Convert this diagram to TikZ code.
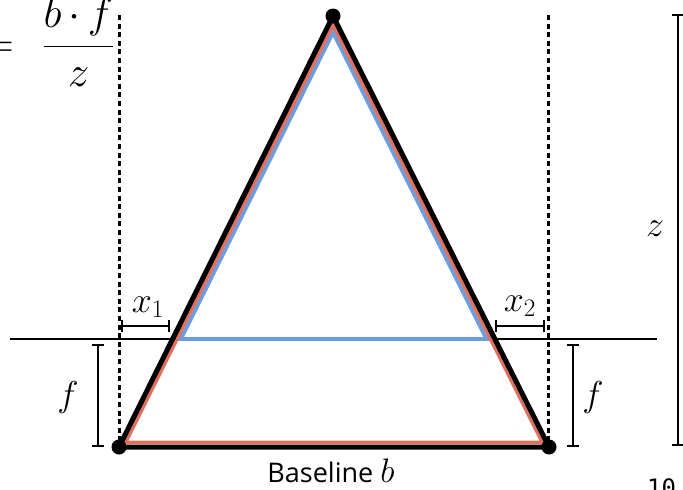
\RequirePackage{fix-cm}
\documentclass[tikz,border=0pt]{standalone}
\usepackage{fontspec}
\newfontfamily\capfont{Open Sans}
\newfontfamily\slidenum{DejaVu Sans Mono}
\usetikzlibrary{arrows.meta}
\definecolor{rayred}{RGB}{224,112,96}
\definecolor{rayblue}{RGB}{106,158,222}
\tikzset{
  dim/.style={line width=2.2pt,{Bar[width=12pt]}-{Bar[width=12pt]}},
  guide/.style={line width=3pt,dash pattern=on 5pt off 3.6pt},
  lbl/.style={font=\fontsize{36}{40}\selectfont,inner sep=0pt}
}
\begin{document}
\begin{tikzpicture}[x=1pt,y=-1pt]
    \useasboundingbox (0,0) rectangle (683,490);
    \coordinate (P) at (333,16);
    \coordinate (L) at (119,447);
    \coordinate (R) at (549,447);
    \coordinate (Ltop) at (119,15);
    \coordinate (Rtop) at (548,15);
    \coordinate (Rbot) at (548,446);
    \draw[line width=2.4pt] (10,339) -- (657,339);
    \draw[guide] (Ltop) -- (L);
    \draw[guide] (Rtop) -- (Rbot);
    \draw[rayblue,line width=3.8pt] (333,32.5) -- (181,339) -- (486.5,339) -- cycle;
    \draw[rayred,line width=3.6pt] (333,24.9) -- (125.7,442.3) -- (542.3,442.3) -- cycle;
    \draw[line width=5pt] (P) -- (L) -- (R) -- cycle;
    \foreach \p in {P,L,R} \fill (\p) circle (7.5pt);
    \draw[dim] (121,326) coordinate (x1a) -- (170,326) coordinate (x1b);
    \draw[dim] (495,326) coordinate (x2a) -- (545,326) coordinate (x2b);
    \draw[dim] (98,344) coordinate (fla) -- (98,447) coordinate (flb);
    \draw[dim] (573,344) coordinate (fra) -- (573,447) coordinate (frb);
    \draw[dim] (678,14) coordinate (za) -- (678,446) coordinate (zb);
    \node[lbl,anchor=base] (x1) at (148,312) {$x_1$};
    \node[lbl,anchor=base] (x2) at (520,311) {$x_2$};
    \node[lbl,anchor=base] (fl) at (68,406) {$f$};
    \node[lbl,anchor=base] (fr) at (593,406) {$f$};
    \node[lbl,anchor=base] (z) at (655,236) {$z$};
    \node[font=\fontsize{43}{50}\selectfont,inner sep=0pt,anchor=base east] (eq) at (14,57) {$=$};
    \node[font=\fontsize{43}{50}\selectfont,inner sep=0pt,anchor=base] (frac) at (78.5,57) {$\displaystyle\frac{b\,{\cdot}\,f}{z}$};
    \node[font=\capfont\fontsize{27}{32}\selectfont,inner sep=0pt,anchor=base] (base) at (331,482) {Baseline {\fontsize{34}{36}\selectfont$b$}};
    \node[font=\slidenum\fontsize{24}{28}\selectfont,inner sep=0pt,anchor=north west] (num) at (647,478) {10};
  \end{tikzpicture}
\end{document}
